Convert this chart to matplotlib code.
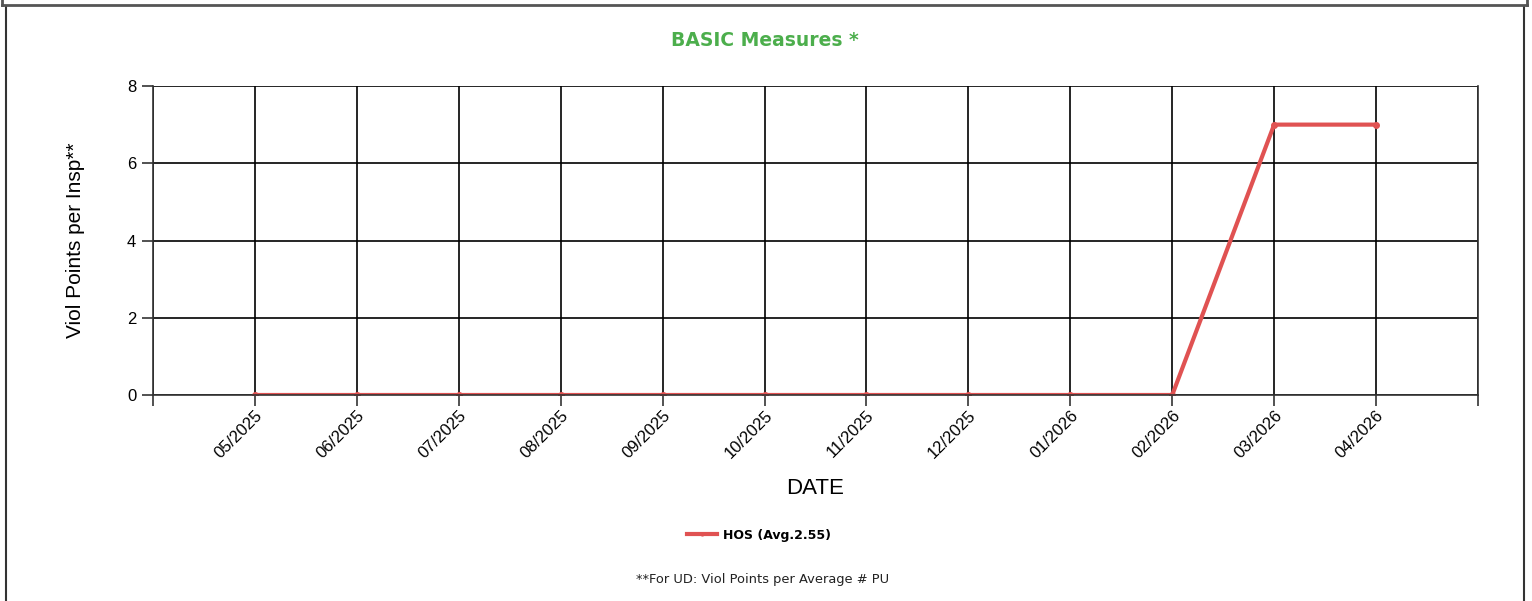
import matplotlib
matplotlib.use('Agg')
import matplotlib.pyplot as plt
from matplotlib.lines import Line2D

# Chart data
months = ["05/2025", "06/2025", "07/2025", "08/2025", "09/2025", "10/2025",
          "11/2025", "12/2025", "01/2026", "02/2026", "03/2026", "04/2026"]
hos_values = [0, 0, 0, 0, 0, 0, 0, 0, 0, 0, 7, 7]
y_ticks = [0, 2, 4, 6, 8]

line_color = "#e05252"
title_color = "#4cae4c"

fig = plt.figure(figsize=(15.32, 6.01), dpi=100)
ax = fig.add_axes([153 / 1532, 206 / 601, 1325 / 1532, 309 / 601])

# Positions 1..12 hold the months, 0 and 13 are empty slots at the edges
x_pos = list(range(1, len(months) + 1))
ax.plot(x_pos, hos_values, color=line_color, linewidth=3, marker='o',
        markersize=4, solid_capstyle='round')

ax.set_xlim(0, len(months) + 1)
ax.set_ylim(0, 8)
ax.set_xticks(range(0, len(months) + 2))
ax.set_xticklabels([""] + months + [""], rotation=45, ha='right',
                   rotation_mode='anchor', fontsize=12, family='Liberation Sans')
ax.set_yticks(y_ticks)
ax.set_yticklabels([str(v) for v in y_ticks], fontsize=12, family='Liberation Sans')
ax.tick_params(axis='both', length=8, width=1.2, color='#333333', pad=1)
ax.tick_params(axis='y', pad=4)

ax.grid(True, color='black', linewidth=1.2)
ax.set_axisbelow(True)
for side in ["left", "right", "bottom"]:
    ax.spines[side].set_color('#333333')
    ax.spines[side].set_linewidth(1.2)
ax.spines["top"].set_visible(False)

ax.set_xlabel("DATE", fontsize=16, family='Liberation Sans', labelpad=12)
ax.set_ylabel("Viol Points per Insp**", fontsize=15, family='Liberation Sans', labelpad=30)

fig.text(765 / 1532, 1 - 40 / 601, "BASIC Measures *", ha='center', va='center',
         fontsize=13.5, fontweight='bold', color=title_color, family='DejaVu Sans')

# Legend
handle = Line2D([], [], color=line_color, linewidth=3, marker='o', markersize=2)
fig.legend([handle], ["HOS (Avg.2.55)"], loc='center', bbox_to_anchor=(759 / 1532, 1 - 535 / 601),
           frameon=False, prop={'family': 'DejaVu Sans', 'weight': 'bold', 'size': 9},
           handlelength=2.4, handletextpad=0.5)

fig.text(763 / 1532, 1 - 579 / 601, "**For UD: Viol Points per Average # PU", ha='center',
         va='center', fontsize=9.4, family='DejaVu Sans', color='#222222')

# Panel border from the page
border = dict(color='#333333', linewidth=1.5, transform=fig.transFigure, clip_on=False)
fig.add_artist(Line2D([6 / 1532, 6 / 1532], [0, 1 - 7 / 601], **border))
fig.add_artist(Line2D([1524 / 1532, 1524 / 1532], [0, 1 - 7 / 601], **border))
fig.add_artist(Line2D([2 / 1532, 1527 / 1532], [1 - 5 / 601, 1 - 5 / 601], color='#555555',
                      linewidth=2, transform=fig.transFigure))
fig.add_artist(Line2D([2 / 1532, 2 / 1532], [1 - 5 / 601, 1], color='#555555',
                      linewidth=2, transform=fig.transFigure))
fig.add_artist(Line2D([1527 / 1532, 1527 / 1532], [1 - 5 / 601, 1], color='#555555',
                      linewidth=2, transform=fig.transFigure))

plt.savefig("out.png", dpi=100)
